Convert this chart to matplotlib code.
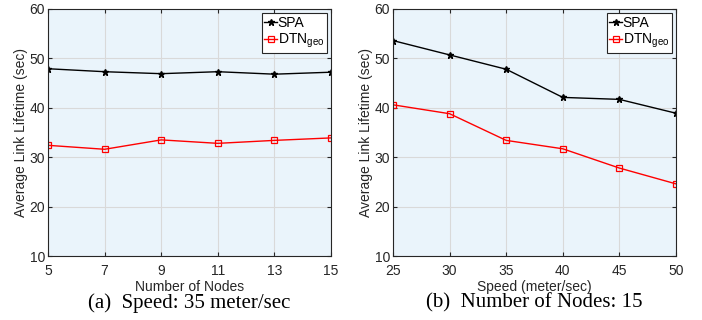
import numpy as np
import matplotlib
matplotlib.use('Agg')
import matplotlib.pyplot as plt

plt.rcParams['font.family'] = ['Liberation Sans', 'DejaVu Sans']
plt.rcParams['mathtext.fontset'] = 'custom'
plt.rcParams['mathtext.rm'] = 'Liberation Sans'

# panel (a): vs number of nodes
nodes = [5, 7, 9, 11, 13, 15]
spa_nodes = [47.9, 47.3, 46.9, 47.3, 46.8, 47.2]
dtn_nodes = [32.4, 31.6, 33.5, 32.8, 33.4, 33.9]

# panel (b): vs speed
speed = [25, 30, 35, 40, 45, 50]
spa_speed = [53.6, 50.7, 47.8, 42.1, 41.7, 38.9]
dtn_speed = [40.6, 38.8, 33.4, 31.7, 27.8, 24.6]

bg = '#eaf4fb'
txt = '#262626'

fig = plt.figure(figsize=(7.02, 3.2), dpi=100)
ax1 = fig.add_axes([0.0684, 0.2, 0.4031, 0.772])
ax2 = fig.add_axes([0.5598, 0.2, 0.4031, 0.772])

panels = [
    (ax1, nodes, spa_nodes, dtn_nodes, 'Number of Nodes', '(a)  Speed: 35 meter/sec'),
    (ax2, speed, spa_speed, dtn_speed, 'Speed (meter/sec)', '(b)  Number of Nodes: 15'),
]

for ax, x, spa, dtn, xlab, cap in panels:
    ax.set_facecolor(bg)
    ax.plot(x, spa, color='black', marker='*', markersize=4.5, linewidth=1.0, label='SPA')
    ax.plot(x, dtn, color='red', marker='s', markersize=4.5, markerfacecolor='none',
            markeredgewidth=0.9, linewidth=1.0, label='DTN$_{\\mathrm{geo}}$')
    ax.set_xlim(x[0], x[-1])
    ax.set_ylim(10, 60)
    ax.set_xticks(x)
    ax.set_yticks([10, 20, 30, 40, 50, 60])
    ax.grid(True, color='#d9d9d9', linewidth=0.8)
    ax.set_axisbelow(True)
    ax.tick_params(direction='in', length=3, labelsize=10, colors=txt, top=True, right=True,
                   labeltop=False, labelright=False)
    ax.tick_params(axis='x', pad=6)
    ax.tick_params(axis='y', pad=2)
    for s in ax.spines.values():
        s.set_color(txt)
        s.set_linewidth(0.8)
    ax.set_xlabel(xlab, fontsize=10, color=txt, labelpad=1)
    ax.set_ylabel('Average Link Lifetime (sec)', fontsize=10, color=txt, labelpad=1)
    leg = ax.legend(loc='upper right', fontsize=10, frameon=True, fancybox=False,
                    edgecolor=txt, framealpha=1, facecolor='white', handlelength=0.9,
                    handletextpad=0.05, borderpad=0.2, labelspacing=0.15, borderaxespad=0.3)
    leg.get_frame().set_linewidth(0.8)
    ax.text(0.5, -0.152, cap, transform=ax.transAxes, ha='center', va='top',
            fontsize=15, family='Liberation Serif', color='black')

fig.savefig('out.png', dpi=100)
